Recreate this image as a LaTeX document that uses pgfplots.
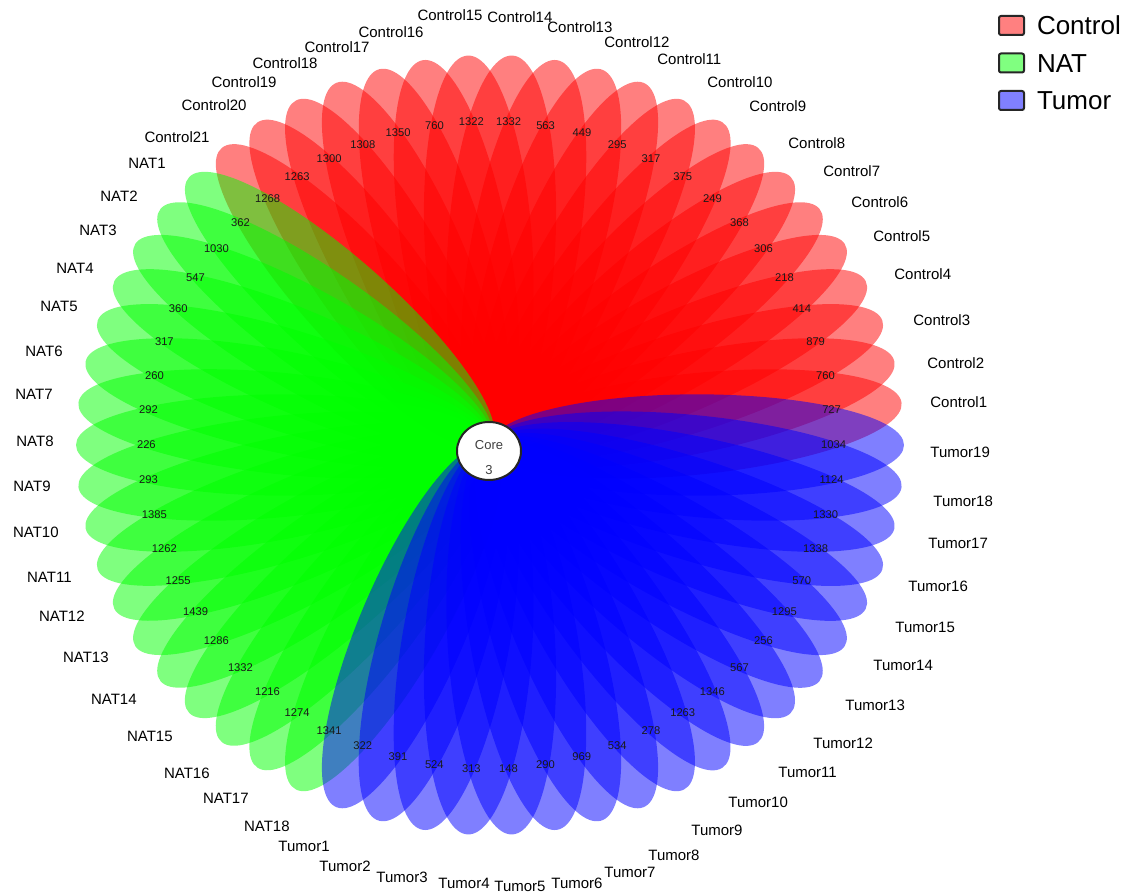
\documentclass[border=0pt]{standalone}
\usepackage{pgfplots}
\pgfplotsset{compat=1.18}
\usepackage{pgfplotstable}
\usepackage{fontspec}
\setmainfont{Liberation Sans}

% petal geometry (normalised: tip at radius 1)
\def\pkb{0.0718}\def\pbb{0.13}\def\pca{0.7762}\def\pcb{0.2238}
\newcommand\petal[2]{%
\fill[#2, fill opacity=0.5] (axis cs:{PX(1,0,#1)},{PY(1,0,#1)})
 .. controls (axis cs:{PX(1,\pkb,#1)},{PY(1,\pkb,#1)}) and (axis cs:{PX(\pca,\pbb,#1)},{PY(\pca,\pbb,#1)}) .. (axis cs:{PX(0.5,\pbb,#1)},{PY(0.5,\pbb,#1)})
 .. controls (axis cs:{PX(\pcb,\pbb,#1)},{PY(\pcb,\pbb,#1)}) and (axis cs:{PX(0,\pkb,#1)},{PY(0,\pkb,#1)}) .. (axis cs:{PX(0,0,#1)},{PY(0,0,#1)})
 .. controls (axis cs:{PX(0,-\pkb,#1)},{PY(0,-\pkb,#1)}) and (axis cs:{PX(\pcb,-\pbb,#1)},{PY(\pcb,-\pbb,#1)}) .. (axis cs:{PX(0.5,-\pbb,#1)},{PY(0.5,-\pbb,#1)})
 .. controls (axis cs:{PX(\pca,-\pbb,#1)},{PY(\pca,-\pbb,#1)}) and (axis cs:{PX(1,-\pkb,#1)},{PY(1,-\pkb,#1)}) .. (axis cs:{PX(1,0,#1)},{PY(1,0,#1)}) -- cycle;}

\newcommand\labfont{\fontsize{7.5pt}{9pt}\selectfont}
\newcommand\numfont{\fontsize{5.6pt}{6.5pt}\selectfont}

\pgfplotstableread{
name val lx ly
Control1 727 930 402
Control2 760 927 363
Control3 879 913 320
Control4 414 894 274
Control5 218 873 236
Control6 306 851 202
Control7 368 823 171
Control8 249 788 143
Control9 375 749 106
Control10 317 707 82
Control11 295 657 59
Control12 449 604 42
Control13 563 547 27
Control14 1332 487 17
Control15 1322 483 15
Control16 760 424 32
Control17 1350 370 47
Control18 1308 318 63
Control19 1300 277 82
Control20 1263 247 105
Control21 1268 210 137
NAT1 362 166 163
NAT2 1030 138 196
NAT3 547 117 230
NAT4 360 94 268
NAT5 317 78 306
NAT6 260 63 351
NAT7 292 53 394
NAT8 226 54 441
NAT9 293 51 486
NAT10 1385 59 532
NAT11 1262 72 577
NAT12 1255 85 616
NAT13 1439 109 657
NAT14 1286 137 699
NAT15 1332 173 736
NAT16 1216 210 773
NAT17 1274 249 798
NAT18 1341 290 826
Tumor1 322 330 846
Tumor2 391 371 866
Tumor3 524 428 877
Tumor4 313 490 883
Tumor5 148 494 886
Tumor6 290 551 883
Tumor7 969 604 872
Tumor8 534 648 855
Tumor9 278 691 830
Tumor10 1263 728 802
Tumor11 1346 778 772
Tumor12 567 813 743
Tumor13 256 845 705
Tumor14 1295 873 665
Tumor15 570 895 627
Tumor16 1338 908 586
Tumor17 1330 928 543
Tumor18 1124 933 501
Tumor19 1034 930 452
}\flowerdata

\begin{document}
\begin{tikzpicture}[declare function={PX(\xs,\xt,\xa)=490+414*(\xs*cos(\xa)-\xt*sin(\xa)); PY(\xs,\xt,\xa)=450+390*(\xs*sin(\xa)+\xt*cos(\xa));}]
\begin{axis}[
  scale only axis, width=565.5pt, height=447.5pt,
  xmin=0, xmax=1131, ymin=0, ymax=895,
  hide axis, clip=false,
  legend image code/.code={\draw[#1] (0pt,-4.75pt) rectangle (12.5pt,4.75pt);},
  legend style={draw=none, fill=none, inner sep=0pt, outer sep=0pt,
    at={(axis cs:998,880)}, anchor=north west,
    font=\fontsize{13pt}{15pt}\selectfont, row sep=8.25pt, column sep=6pt,
    nodes={inner sep=0pt, text height=9.5pt, text depth=0pt}},
  legend cell align=left,
]
\path (rel axis cs:0,0) rectangle (rel axis cs:1,1);
\addlegendimage{fill=red!50, draw=black!85, line width=1pt, rounded corners=1pt}
\addlegendimage{fill=green!50, draw=black!85, line width=1pt, rounded corners=1pt}
\addlegendimage{fill=blue!50, draw=black!85, line width=1pt, rounded corners=1pt}
\legend{Control, NAT, Tumor}

\pgfplotsinvokeforeach{1,...,21}{\petal{#1*360/58}{red}}
\pgfplotsinvokeforeach{22,...,39}{\petal{#1*360/58}{green}}
\pgfplotsinvokeforeach{40,...,58}{\petal{#1*360/58}{blue}}

% petal counts
\addplot[only marks, mark=none, nodes near coords, point meta=explicit symbolic,
  every node near coord/.append style={font=\numfont, text=black!90, anchor=center, inner sep=0pt}]
  table[x expr={490+414*0.83*cos((\coordindex+1)*360/58)}, y expr={450+390*0.83*sin((\coordindex+1)*360/58)}, meta=val] \flowerdata;

% sample names: right half (left aligned)
\addplot[only marks, mark=none, nodes near coords, point meta=explicit symbolic,
  restrict expr to domain={\coordindex}{0:13},
  every node near coord/.append style={font=\labfont, text=black, anchor=west, inner sep=0pt}]
  table[x=lx, y expr={895-\thisrow{ly}}, meta=name] \flowerdata;
\addplot[only marks, mark=none, nodes near coords, point meta=explicit symbolic,
  restrict expr to domain={\coordindex}{43:57},
  every node near coord/.append style={font=\labfont, text=black, anchor=west, inner sep=0pt}]
  table[x=lx, y expr={895-\thisrow{ly}}, meta=name] \flowerdata;
% left half (right aligned)
\addplot[only marks, mark=none, nodes near coords, point meta=explicit symbolic,
  restrict expr to domain={\coordindex}{14:42},
  every node near coord/.append style={font=\labfont, text=black, anchor=east, inner sep=0pt}]
  table[x=lx, y expr={895-\thisrow{ly}}, meta=name] \flowerdata;

% core
\draw[fill=white, draw=black!85, line width=1pt] (axis cs:489,444) ellipse [x radius=32, y radius=29];
\node[font=\fontsize{6.5pt}{8pt}\selectfont, text=black!75] at (axis cs:489,450) {Core};
\node[font=\fontsize{6.5pt}{8pt}\selectfont, text=black!75] at (axis cs:489,425) {3};
\end{axis}
\end{tikzpicture}
\end{document}
